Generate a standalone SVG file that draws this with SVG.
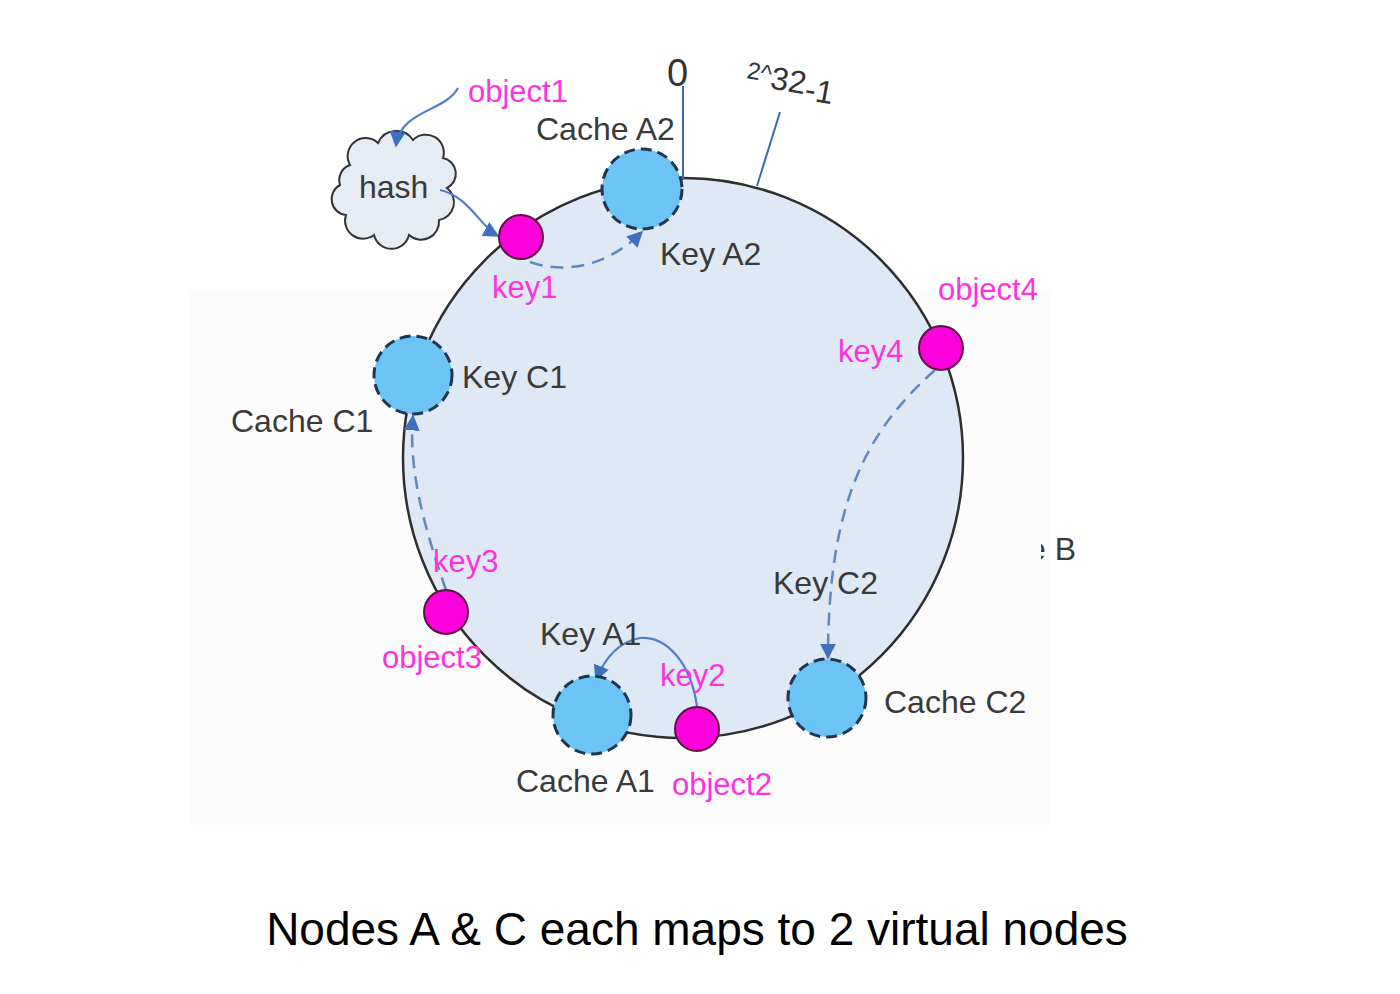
<svg xmlns="http://www.w3.org/2000/svg" width="1400" height="994" viewBox="0 0 1400 994">
<style>
.lbl{font-family:"Liberation Sans",Arial,sans-serif;font-size:32px;fill:#3a3a3a}
.mag{font-family:"Liberation Sans",Arial,sans-serif;font-size:31px;fill:#ff33dd}
.cache{fill:#6cc4f6;stroke:#1f3550;stroke-width:3;stroke-dasharray:11 6}
.key{fill:#ff00dd;stroke:#5a1040;stroke-width:2}
.arr{fill:none;stroke:#4f7fc4;stroke-width:2.2}
.dash{fill:none;stroke:#5f88bf;stroke-width:2.5;stroke-dasharray:13 8}
</style>
<defs>
<marker id="ahb" viewBox="0 0 10 10" refX="9" refY="5" markerWidth="16" markerHeight="16" orient="auto" markerUnits="userSpaceOnUse">
<path d="M0,0 L10,5 L0,10 z" fill="#3f6fbf"/>
</marker>
<clipPath id="cb"><rect x="1041" y="520" width="60" height="50"/></clipPath>
</defs>
<rect width="1400" height="994" fill="#ffffff"/>
<rect x="190" y="290" width="860" height="535" fill="#fcfcfc"/>
<g id="ring">
<circle cx="683" cy="458" r="280" fill="#dfe9f6" stroke="#2e2e2e" stroke-width="2.5"/>
<line x1="683" y1="86" x2="683" y2="180" stroke="#3d6aa8" stroke-width="2"/>
<line x1="780" y1="112" x2="757" y2="186" stroke="#3d6aa8" stroke-width="2"/>
<text x="667" y="86" font-family="Liberation Sans,Arial,sans-serif" font-size="38" fill="#333">0</text>
<text transform="translate(745,84) rotate(10)" font-family="Liberation Sans,Arial,sans-serif" font-size="32" fill="#333"><tspan font-size="24" dy="-6">2^</tspan><tspan dy="6">32</tspan><tspan dy="5">-1</tspan></text>
</g>
<g id="hash">
<path d="M350,165 a18,18 0 0 1 28,-22 a20,20 0 0 1 35,-3 a18,18 0 0 1 30,18 a16,16 0 0 1 4,30 a18,18 0 0 1 -8,32 a18,18 0 0 1 -30,15 a18,18 0 0 1 -35,0 a18,18 0 0 1 -28,-20 a16,16 0 0 1 -6,-30 a16,16 0 0 1 10,-20 z" fill="#e6ecf4" stroke="#333" stroke-width="2"/>
<text class="lbl" x="359" y="198">hash</text>
</g>
<g id="connectors">
<path class="arr" d="M458,88 C445,112 400,110 396,146" marker-end="url(#ahb)"/>
<path class="arr" d="M440,190 C468,196 480,226 498,236" marker-end="url(#ahb)"/>
<path class="dash" d="M530,262 C570,276 612,262 642,232" marker-end="url(#ahb)"/>
<path class="dash" d="M446,590 C425,530 408,470 413,416" marker-end="url(#ahb)"/>
<path class="arr" d="M697,706 C690,660 665,636 640,638 C618,642 604,660 596,680" marker-end="url(#ahb)"/>
<path class="dash" d="M935,370 C868,430 828,500 828,658" marker-end="url(#ahb)"/>
</g>
<g id="cacheA2"><circle class="cache" cx="642" cy="189" r="40"/><text class="lbl" x="536" y="140">Cache A2</text><text class="lbl" x="660" y="265">Key A2</text></g>
<g id="key1"><circle class="key" cx="521" cy="237" r="22"/><text class="mag" x="492" y="298">key1</text><text class="mag" x="468" y="102">object1</text></g>
<g id="cacheC1"><circle class="cache" cx="413" cy="375" r="39"/><text class="lbl" x="462" y="388">Key C1</text><text class="lbl" x="231" y="432">Cache C1</text></g>
<g id="key4"><circle class="key" cx="941" cy="348" r="22"/><text class="mag" x="838" y="362">key4</text><text class="mag" x="938" y="300">object4</text></g>
<g id="key3"><circle class="key" cx="446" cy="612" r="22"/><text class="mag" x="433" y="572">key3</text><text class="mag" x="382" y="668">object3</text></g>
<g id="cacheA1"><circle class="cache" cx="592" cy="715" r="39"/><text class="lbl" x="540" y="645">Key A1</text><text class="lbl" x="516" y="792">Cache A1</text></g>
<g id="key2"><circle class="key" cx="697" cy="729" r="22"/><text class="mag" x="660" y="686">key2</text><text class="mag" x="672" y="795">object2</text></g>
<g id="cacheC2"><circle class="cache" cx="827" cy="698" r="39"/><text class="lbl" x="773" y="594">Key C2</text><text class="lbl" x="884" y="713">Cache C2</text></g>
<g id="cacheB"><text class="lbl" x="1028" y="560" clip-path="url(#cb)">e B</text></g>
<text x="697" y="945" text-anchor="middle" font-family="Liberation Sans,Arial,sans-serif" font-size="46" fill="#000">Nodes A &amp; C each maps to 2 virtual nodes</text>
</svg>
